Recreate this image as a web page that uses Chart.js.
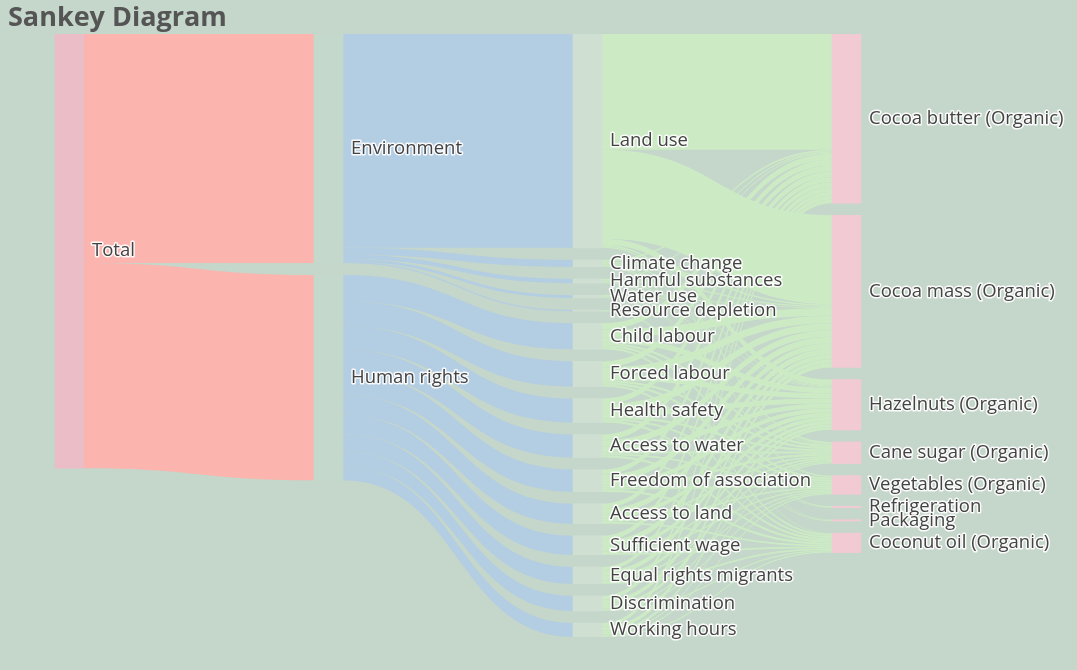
<!DOCTYPE html>
<html lang="en">
<head>
    <meta charset="UTF-8">
    <title>Sankey Diagram</title>
    <script src="https://cdn.jsdelivr.net/npm/chart.js"></script>
    <style>
        body { margin: 0; background: #c5d6ca; }
        #wrap { width: 1077px; height: 670px; position: relative; }
    </style>
</head>
<body>
    <div id="wrap"><canvas id="sankeyChart"></canvas></div>
    <script>
// data: impact split Total -> group -> topic -> product
const rootName = 'Total';
const groups = ['Environment', 'Human rights'];
const environmentTopics = ['Land use', 'Climate change', 'Harmful substances', 'Water use', 'Resource depletion'];
const humanRightsTopics = ['Child labour', 'Forced labour', 'Health safety', 'Access to water',
  'Freedom of association', 'Access to land', 'Sufficient wage', 'Equal rights migrants',
  'Discrimination', 'Working hours'];
const products = ['Cocoa butter (Organic)', 'Cocoa mass (Organic)', 'Hazelnuts (Organic)',
  'Cane sugar (Organic)', 'Vegetables (Organic)', 'Refrigeration', 'Packaging', 'Coconut oil (Organic)'];

// one row per topic, columns in the order of products
const environmentImpact = [
  [26.7, 20.5, 1.4, 0.4, 0.3, 0, 0, 0],
  [0.4, 0.4, 0.2, 0.1, 0.1, 0.2, 0.1, 0.1],
  [0.3, 0.3, 0.2, 0.1, 0, 0, 0, 0.1],
  [0.2, 0.2, 0.1, 0.1, 0, 0, 0, 0],
  [0, 0, 0, 0, 0, 0.1, 0.2, 0]
];
const humanRightsImpact = [
  [1.4, 1.8, 1.3, 0.5, 0.5, 0, 0, 0.5],
  [1.4, 1.7, 1.2, 0.5, 0.5, 0, 0, 0.5],
  [1.3, 1.6, 1.1, 0.5, 0.5, 0, 0, 0.5],
  [1.3, 1.5, 1.1, 0.5, 0.4, 0, 0, 0.5],
  [1.2, 1.5, 1.0, 0.5, 0.4, 0, 0, 0.5],
  [1.1, 1.3, 1.0, 0.4, 0.4, 0, 0, 0.4],
  [1.1, 1.3, 0.9, 0.4, 0.3, 0, 0, 0.4],
  [0.9, 1.1, 0.8, 0.4, 0.3, 0, 0, 0.4],
  [0.9, 1.0, 0.7, 0.3, 0.3, 0, 0, 0.3],
  [0.8, 0.9, 0.6, 0.3, 0.3, 0, 0, 0.3]
];

// look
const NODE_PX = 29;
const NODE_W = NODE_PX / 259;   // node width in x units
const GAP = 2.78;               // gap between nodes in value units
const nodeColors = ['#ebbdc7', '#c4d9cc', '#cfe0d3', '#f1cad4'];
const linkColors = ['#fbb4ae', '#b3cde3', '#ccebc5'];

// build nodes + links
const nodes = [];
const links = [];
function addNode(name, col) {
  nodes.push({ name: name, col: col, inV: 0, outV: 0 });
  return nodes.length - 1;
}
function addLink(s, t, v) {
  links.push({ s: s, t: t, v: v });
  nodes[s].outV += v;
  nodes[t].inV += v;
}

const root = addNode(rootName, 0);
const groupIdx = groups.map(g => addNode(g, 1));
const envIdx = environmentTopics.map(t => addNode(t, 2));
const hrIdx = humanRightsTopics.map(t => addNode(t, 2));
const prodIdx = products.map(p => addNode(p, 3));

const sum = arr => arr.reduce((a, b) => a + b, 0);
const envTotal = sum(environmentImpact.map(sum));
const hrTotal = sum(humanRightsImpact.map(sum));
addLink(root, groupIdx[0], envTotal);
addLink(root, groupIdx[1], hrTotal);
environmentImpact.forEach((row, i) => {
  addLink(groupIdx[0], envIdx[i], sum(row));
  row.forEach((v, j) => { if (v > 0) addLink(envIdx[i], prodIdx[j], v); });
});
humanRightsImpact.forEach((row, i) => {
  addLink(groupIdx[1], hrIdx[i], sum(row));
  row.forEach((v, j) => { if (v > 0) addLink(hrIdx[i], prodIdx[j], v); });
});

// stack nodes per column
let yMax = 0;
for (let c = 0; c < 4; c++) {
  let cursor = 0;
  nodes.forEach(n => {
    if (n.col !== c) return;
    n.value = Math.max(n.inV, n.outV);
    n.y0 = cursor;
    n.y1 = cursor + n.value;
    cursor = n.y1 + GAP;
  });
  yMax = Math.max(yMax, cursor - GAP);
}

// link offsets at both ends
nodes.forEach((n, i) => {
  let off = n.y0;
  links.filter(l => l.s === i).sort((a, b) => a.t - b.t).forEach(l => {
    l.sy0 = off; l.sy1 = off + l.v; off += l.v;
  });
  off = n.y0;
  links.filter(l => l.t === i).sort((a, b) => a.s - b.s).forEach(l => {
    l.ty0 = off; l.ty1 = off + l.v; off += l.v;
  });
});

const background = {
  id: 'background',
  beforeDraw(chart) {
    const ctx = chart.ctx;
    ctx.save();
    ctx.fillStyle = '#c5d6ca';
    ctx.fillRect(0, 0, chart.width, chart.height);
    ctx.restore();
  }
};

const sankeyLinks = {
  id: 'sankeyLinks',
  beforeDatasetsDraw(chart) {
    const ctx = chart.ctx;
    const xs = chart.scales.x;
    const ys = chart.scales.y;
    ctx.save();
    links.forEach(l => {
      const src = nodes[l.s];
      const tgt = nodes[l.t];
      const x0 = xs.getPixelForValue(src.col + NODE_W);
      const x1 = xs.getPixelForValue(tgt.col);
      const xm = (x0 + x1) / 2;
      const a0 = ys.getPixelForValue(l.sy0), a1 = ys.getPixelForValue(l.sy1);
      const b0 = ys.getPixelForValue(l.ty0), b1 = ys.getPixelForValue(l.ty1);
      ctx.beginPath();
      ctx.moveTo(x0, a0);
      ctx.bezierCurveTo(xm, a0, xm, b0, x1, b0);
      ctx.lineTo(x1, b1);
      ctx.bezierCurveTo(xm, b1, xm, a1, x0, a1);
      ctx.closePath();
      ctx.fillStyle = linkColors[src.col];
      ctx.fill();
    });
    ctx.restore();
  }
};

const nodeLabels = {
  id: 'nodeLabels',
  afterDatasetsDraw(chart) {
    const ctx = chart.ctx;
    const xs = chart.scales.x;
    const ys = chart.scales.y;
    ctx.save();
    ctx.font = '18.5px "Open Sans"';
    ctx.textBaseline = 'middle';
    ctx.lineJoin = 'round';
    nodes.forEach(n => {
      const tx = xs.getPixelForValue(n.col + NODE_W) + 8;
      const ty = ys.getPixelForValue((n.y0 + n.y1) / 2);
      ctx.strokeStyle = 'rgba(255,255,255,0.9)';
      ctx.lineWidth = 3;
      ctx.strokeText(n.name, tx, ty);
      ctx.fillStyle = '#434343';
      ctx.fillText(n.name, tx, ty);
    });
    ctx.restore();
  }
};

const ctx = document.getElementById('sankeyChart');
new Chart(ctx, {
  type: 'bar',
  data: {
    datasets: [{
      data: nodes.map(n => ({ x: n.col + NODE_W / 2, y: [n.y0, n.y1] })),
      backgroundColor: nodes.map(n => nodeColors[n.col]),
      borderWidth: 0,
      barThickness: NODE_PX
    }]
  },
  options: {
    responsive: true,
    maintainAspectRatio: false,
    animation: false,
    layout: { padding: { left: 8, right: 0, top: 0, bottom: 33 } },
    scales: {
      x: { type: 'linear', display: false, offset: false, min: -47 / 259, max: -47 / 259 + 1069 / 259 },
      y: { type: 'linear', display: false, reverse: true, min: 0, max: yMax }
    },
    plugins: {
      legend: { display: false },
      tooltip: { enabled: false },
      title: {
        display: true,
        text: 'Sankey Diagram',
        align: 'start',
        color: '#555555',
        font: { family: '"Open Sans"', size: 27, weight: 'bold', lineHeight: 1.1 },
        padding: { top: 3, bottom: 1.3 }
      }
    }
  },
  plugins: [background, sankeyLinks, nodeLabels]
});
    </script>
</body>
</html>
